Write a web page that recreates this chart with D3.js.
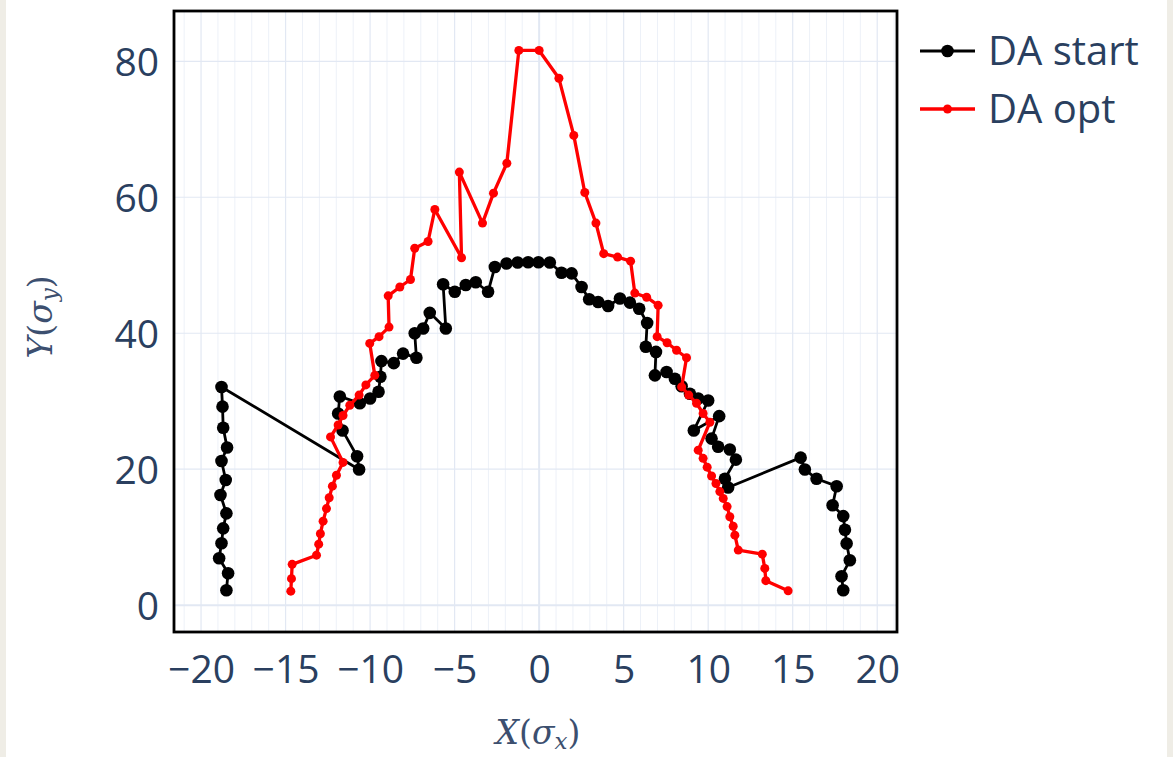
<!DOCTYPE html>
<html>
<head>
<meta charset="utf-8">
<script src="https://cdn.jsdelivr.net/npm/d3@7"></script>
<style>
  body { margin: 0; background: #fff; }
  svg { display: block; }
</style>
</head>
<body>
<script>
// DA start trace (black), in drawing order
const startX = [-18.50, -18.40, -18.93, -18.79, -18.69, -18.50, -18.85, -18.54, -18.79, -18.46, -18.69, -18.73, -18.79,
  -10.65, -10.77, -11.63, -11.89, -11.79, -10.61, -10.0, -9.5, -9.39, -9.33, -8.6, -8.05, -7.26, -7.36, -6.86, -6.47,
  -5.52, -5.68, -4.99, -4.34, -3.75, -3.02, -2.62, -1.93, -1.27, -0.65, -0.04, 0.63, 1.32, 1.92, 2.51, 2.96, 3.49,
  4.08, 4.78, 5.37, 5.92, 6.39, 6.31, 6.91, 6.85, 7.54, 8.03, 8.43, 8.92, 9.41, 10.0, 9.15, 10.65, 10.2, 10.59,
  11.28, 11.64, 10.99, 11.18, 15.47, 15.72, 16.41, 17.6, 17.36, 17.99, 18.09, 18.19, 18.38, 17.89, 17.99];
const startY = [2.2, 4.7, 6.9, 9.1, 11.3, 13.5, 16.2, 18.4, 21.2, 23.2, 26.1, 29.2, 32.1,
  19.95, 21.9, 25.7, 28.2, 30.7, 29.7, 30.4, 31.4, 33.6, 35.9, 35.6, 37.0, 36.4, 40.0, 40.7, 43.0,
  40.7, 47.2, 46.1, 47.1, 47.5, 46.1, 49.75, 50.25, 50.4, 50.45, 50.45, 50.4, 48.9, 48.8, 46.8, 45.0, 44.6,
  44.0, 45.1, 44.5, 43.6, 41.5, 38.0, 37.25, 33.8, 34.3, 33.3, 32.2, 31.1, 30.4, 30.1, 25.7, 27.8, 24.5, 23.3,
  22.9, 21.4, 18.6, 17.3, 21.7, 19.95, 18.6, 17.5, 14.7, 13.1, 11.1, 9.07, 6.6, 4.26, 2.2];

// DA opt trace (red)
const optX = [-14.69, -14.65, -14.61, -13.17, -13.04, -12.94, -12.78, -12.58, -12.42, -12.23, -11.99, -11.6,
  -12.34, -11.89, -11.6, -11.2, -10.65, -10.25, -9.72, -10.02, -9.47, -8.88, -8.93, -8.24, -7.61, -7.36, -6.57,
  -6.17, -4.59, -4.72, -3.35, -2.70, -1.91, -1.2, 0.0, 1.17, 2.05, 2.70, 3.36, 3.82, 4.64, 5.41, 5.66, 6.36, 7.04,
  6.98, 7.57, 8.13, 8.72, 8.43, 8.85, 9.31, 9.7, 10.1, 9.41, 9.7, 9.94, 10.2, 10.46, 10.69, 10.89, 11.12, 11.28,
  11.48, 11.58, 11.78, 13.2, 13.35, 13.41, 14.73];
const optY = [2.06, 3.9, 6.0, 7.35, 8.97, 10.5, 12.35, 14.2, 15.8, 17.5, 19.1, 21.0,
  24.75, 26.5, 27.9, 29.4, 30.9, 32.4, 33.8, 38.5, 39.5, 40.9, 45.5, 46.8, 47.9, 52.5, 53.5,
  58.2, 51.1, 63.7, 56.2, 60.6, 65.0, 81.6, 81.6, 77.5, 69.1, 60.7, 56.2, 51.7, 51.2, 50.6, 45.9, 45.3, 44.1,
  39.5, 38.6, 37.5, 36.4, 32.1, 30.9, 29.7, 28.2, 26.9, 22.8, 21.6, 20.3, 19.0, 17.9, 16.7, 15.7, 14.5, 13.0,
  11.6, 10.3, 8.1, 7.5, 5.4, 3.6, 2.1];

const seriesNames = ["DA start", "DA opt"];
const seriesColors = ["#000000", "#ff0000"];
const xTicks = [-20, -15, -10, -5, 0, 5, 10, 15, 20];
const yTicks = [0, 20, 40, 60, 80];

const W = 1173, H = 757;
const plot = { left: 174, top: 11, right: 897, bottom: 632 };
const textColor = "#2a3f5f";
const tickFont = "'Open Sans', sans-serif";

const svg = d3.select("body").append("svg")
  .attr("width", W)
  .attr("height", H);

// page edges
svg.append("rect").attr("x", 0).attr("y", 0).attr("width", W).attr("height", H).attr("fill", "#fff");
svg.append("rect").attr("x", 0).attr("y", 0).attr("width", 6).attr("height", H).attr("fill", "#efede6");
svg.append("rect").attr("x", 1167).attr("y", 0).attr("width", 6).attr("height", H).attr("fill", "#efede6");

const x = d3.scaleLinear().domain([-21.6, 21.17]).range([plot.left, plot.right]);
const y = d3.scaleLinear().domain([-3.95, 87.4]).range([plot.bottom, plot.top]);

const grid = svg.append("g");

// minor x grid, every unit
grid.selectAll("line.minor")
  .data(d3.range(-21, 22).filter(v => v % 5 !== 0))
  .enter().append("line")
  .attr("x1", d => x(d)).attr("x2", d => x(d))
  .attr("y1", plot.top).attr("y2", plot.bottom)
  .attr("stroke", "#edf1f8").attr("stroke-width", 1);

grid.selectAll("line.vmaj")
  .data(xTicks)
  .enter().append("line")
  .attr("x1", d => x(d)).attr("x2", d => x(d))
  .attr("y1", plot.top).attr("y2", plot.bottom)
  .attr("stroke", "#e2e8f3").attr("stroke-width", d => d === 0 ? 2 : 1.2);

grid.selectAll("line.hmaj")
  .data(yTicks)
  .enter().append("line")
  .attr("x1", plot.left).attr("x2", plot.right)
  .attr("y1", d => y(d)).attr("y2", d => y(d))
  .attr("stroke", "#e2e8f3").attr("stroke-width", d => d === 0 ? 2 : 1.2);

// axes (labels only, plotly style)
const xAxis = svg.append("g")
  .attr("transform", `translate(0,${plot.bottom + 20})`)
  .call(d3.axisBottom(x).tickValues(xTicks).tickSize(0).tickFormat(d => d < 0 ? "\u2212" + Math.abs(d) : d));
xAxis.select(".domain").remove();
xAxis.selectAll("text")
  .attr("font-family", tickFont).attr("font-size", 39).attr("fill", textColor)
  .attr("dy", "0.71em");

const yAxis = svg.append("g")
  .attr("transform", `translate(${plot.left - 12},0)`)
  .call(d3.axisLeft(y).tickValues(yTicks).tickSize(0));
yAxis.select(".domain").remove();
yAxis.selectAll("text")
  .attr("font-family", tickFont).attr("font-size", 39).attr("fill", textColor)
  .attr("dy", "0.36em");

// traces
const line = d3.line().x(d => x(d[0])).y(d => y(d[1]));
const traces = [
  { pts: d3.zip(startX, startY), color: seriesColors[0], width: 2.8, r: 6.3 },
  { pts: d3.zip(optX, optY), color: seriesColors[1], width: 3.3, r: 4.5 }
];

svg.append("clipPath").attr("id", "clip").append("rect")
  .attr("x", plot.left).attr("y", plot.top)
  .attr("width", plot.right - plot.left).attr("height", plot.bottom - plot.top);

traces.forEach(t => {
  const g = svg.append("g").attr("clip-path", "url(#clip)");
  g.append("path")
    .attr("d", line(t.pts))
    .attr("fill", "none")
    .attr("stroke", t.color)
    .attr("stroke-width", t.width)
    .attr("stroke-linejoin", "round");
  g.selectAll("circle")
    .data(t.pts)
    .enter().append("circle")
    .attr("cx", d => x(d[0]))
    .attr("cy", d => y(d[1]))
    .attr("r", t.r)
    .attr("fill", t.color);
});

// frame
svg.append("rect")
  .attr("x", plot.left).attr("y", plot.top)
  .attr("width", plot.right - plot.left).attr("height", plot.bottom - plot.top)
  .attr("fill", "none").attr("stroke", "#000").attr("stroke-width", 2.8);

// axis titles
const xTitle = svg.append("text")
  .attr("x", 538).attr("y", 744)
  .attr("text-anchor", "middle")
  .attr("font-family", "'DejaVu Serif', 'Liberation Serif', serif")
  .attr("font-size", 33).attr("fill", "#3c4f6f");
xTitle.append("tspan").attr("font-style", "italic").text("X");
xTitle.append("tspan").text("(");
xTitle.append("tspan").attr("font-style", "italic").text("σ");
xTitle.append("tspan").attr("font-style", "italic").attr("font-size", 23).attr("dy", 5).text("x");
xTitle.append("tspan").attr("dy", -5).text(")");

const yTitle = svg.append("text")
  .attr("transform", "translate(52,317) rotate(-90)")
  .attr("text-anchor", "middle")
  .attr("font-family", "'DejaVu Serif', 'Liberation Serif', serif")
  .attr("font-size", 33).attr("fill", "#3c4f6f");
yTitle.append("tspan").attr("font-style", "italic").text("Y");
yTitle.append("tspan").text("(");
yTitle.append("tspan").attr("font-style", "italic").text("σ");
yTitle.append("tspan").attr("font-style", "italic").attr("font-size", 23).attr("dy", 5).text("y");
yTitle.append("tspan").attr("dy", -5).text(")");

// legend
const legend = svg.append("g");
seriesNames.forEach((name, i) => {
  const ly = 51 + i * 58;
  const item = legend.append("g");
  item.append("line")
    .attr("x1", 920).attr("x2", 975).attr("y1", ly).attr("y2", ly)
    .attr("stroke", seriesColors[i]).attr("stroke-width", traces[i].width);
  item.append("circle")
    .attr("cx", 947.5).attr("cy", ly).attr("r", traces[i].r)
    .attr("fill", seriesColors[i]);
  item.append("text")
    .attr("x", 988).attr("y", ly)
    .attr("dy", "0.36em")
    .attr("font-family", tickFont).attr("font-size", 40)
    .attr("fill", textColor)
    .text(name);
});
</script>
</body>
</html>
